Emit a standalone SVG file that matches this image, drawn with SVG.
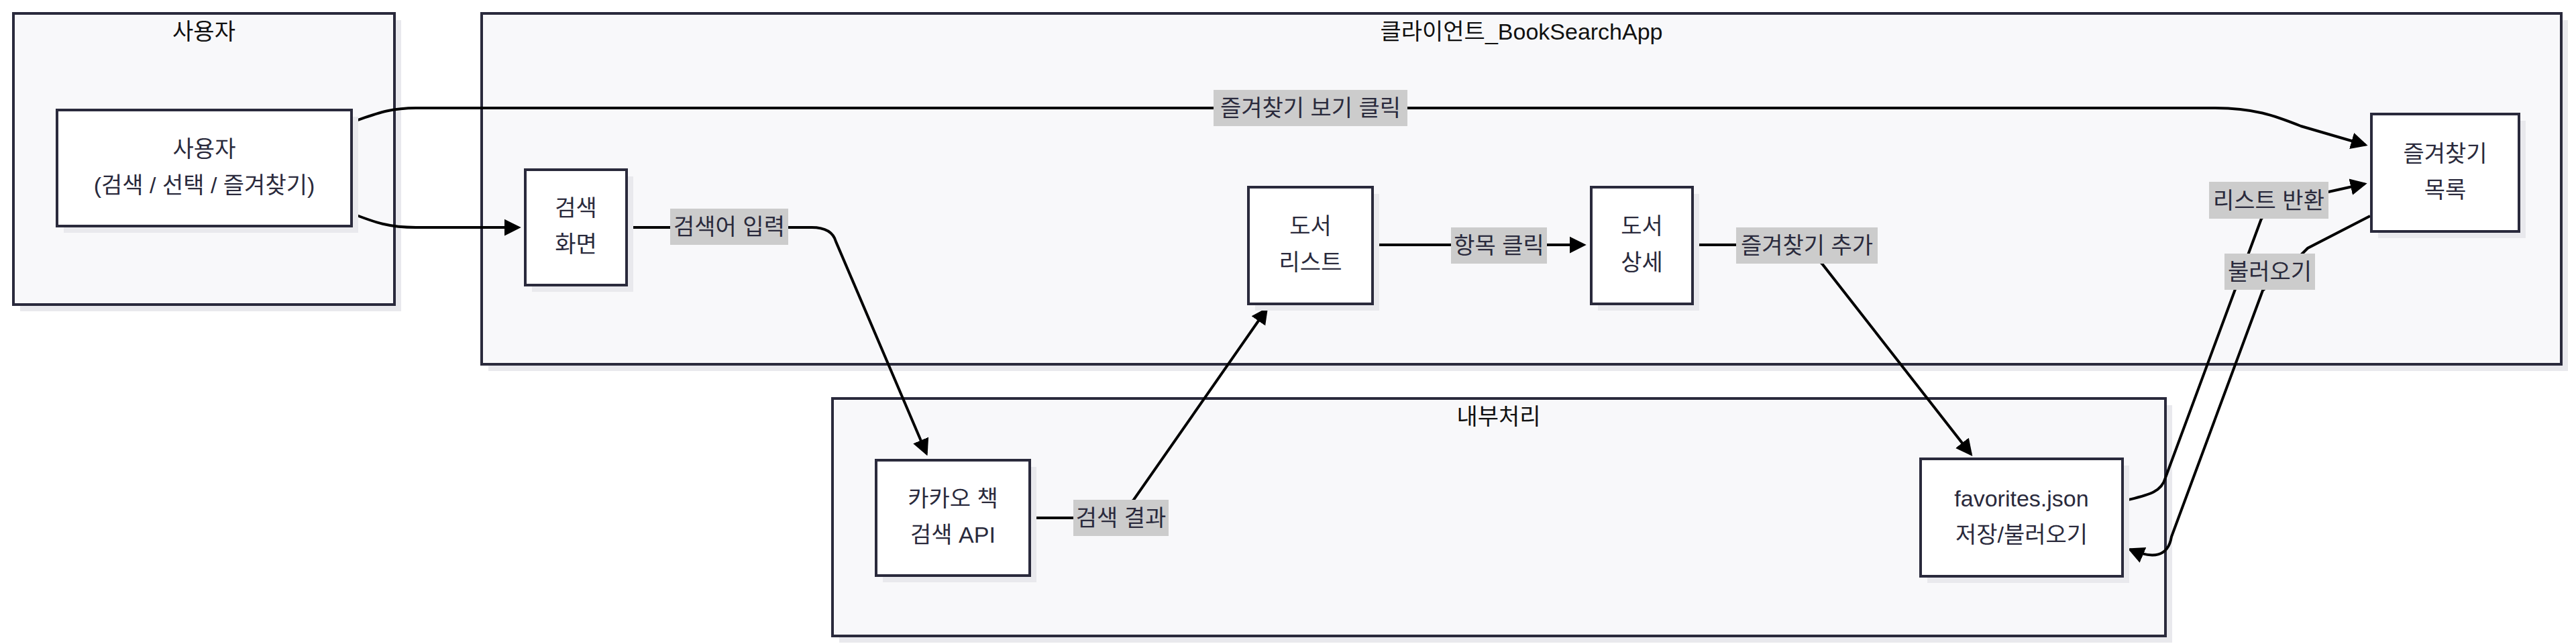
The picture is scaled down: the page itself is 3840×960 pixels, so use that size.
<svg xmlns="http://www.w3.org/2000/svg" width="3840" height="960" viewBox="0 0 3840 960">
<defs>
<style>
text{font-family:"Liberation Sans","Noto Sans CJK KR",sans-serif;font-size:34px;text-anchor:middle}
.cl{fill:#f8f8fa;stroke:#2a2a3c;stroke-width:4}
.sh{fill:#e9e9ed}
.nd{fill:#ffffff;stroke:#2a2a3c;stroke-width:4}
.ct{fill:#111111}
.nt{fill:#2a2a3c}
.e{fill:none;stroke:#000;stroke-width:4}
.lb{fill:#cccccc}
.lt{fill:#2a2a3c}
</style>
<marker id="ah" viewBox="0 0 10 10" refX="8.5" refY="5" markerWidth="25" markerHeight="30" markerUnits="userSpaceOnUse" orient="auto">
<path d="M0,0 L10,5 L0,10 z" fill="#000"/>
</marker>
</defs>
<rect width="3840" height="960" fill="#ffffff"/>

<g id="cluster-user">
<rect class="sh" x="30" y="30" width="568" height="434"/>
<rect class="cl" x="20" y="20" width="568" height="434"/>
<text class="ct" x="304" y="59">사용자</text>
</g>
<g id="cluster-client">
<rect class="sh" x="728" y="30" width="3100" height="523"/>
<rect class="cl" x="718" y="20" width="3100" height="523"/>
<text class="ct" x="2268" y="59">클라이언트_BookSearchApp</text>
</g>
<g id="cluster-internal">
<rect class="sh" x="1251" y="604" width="1987" height="354"/>
<rect class="cl" x="1241" y="594" width="1987" height="354"/>
<text class="ct" x="2234" y="633">내부처리</text>
</g>

<g id="edges">
<path class="e" d="M524,182 C560,170 580,161 620,161 L3300,161 C3360,161 3390,172 3430,188 L3526,216" marker-end="url(#ah)"/>
<path class="e" d="M524,318 C560,332 580,339 620,339 L773,339" marker-end="url(#ah)"/>
<path class="e" d="M934,339 L1210,339 Q1240,339 1246,360 L1381,676" marker-end="url(#ah)"/>
<path class="e" d="M1535,772 L1660,772 L1690,745 L1888,461" marker-end="url(#ah)"/>
<path class="e" d="M2046,365 L2361,365" marker-end="url(#ah)"/>
<path class="e" d="M2523,365 L2680,365 L2716,393 L2938,677" marker-end="url(#ah)"/>
<path class="e" d="M3165,747 C3200,738 3222,735 3228,712 L3371,326 L3400,300 L3471,286 L3525,274" marker-end="url(#ah)"/>
<path class="e" d="M3533,322 L3440,370 L3400,410 L3373,433 L3237,800 C3232,830 3210,834 3175,819" marker-end="url(#ah)"/>
</g>

<g id="edge-labels">
<g id="lbl-fav-view"><rect class="lb" x="1809" y="134" width="289" height="54"/><text class="lt" x="1953.5" y="173">즐겨찾기 보기 클릭</text></g>
<g id="lbl-query"><rect class="lb" x="999" y="311" width="176" height="54"/><text class="lt" x="1087" y="350">검색어 입력</text></g>
<g id="lbl-result"><rect class="lb" x="1600" y="745" width="142" height="54"/><text class="lt" x="1671" y="784">검색 결과</text></g>
<g id="lbl-click"><rect class="lb" x="2163" y="339" width="143" height="54"/><text class="lt" x="2234.5" y="378">항목 클릭</text></g>
<g id="lbl-add"><rect class="lb" x="2588" y="339" width="211" height="54"/><text class="lt" x="2693.5" y="378">즐겨찾기 추가</text></g>
<g id="lbl-return"><rect class="lb" x="3293" y="271" width="178" height="55"/><text class="lt" x="3382" y="311">리스트 반환</text></g>
<g id="lbl-load"><rect class="lb" x="3316" y="378" width="135" height="54"/><text class="lt" x="3383.5" y="417">불러오기</text></g>
</g>

<g id="node-user">
<rect class="sh" x="95" y="174" width="439" height="173"/>
<rect class="nd" x="85" y="164" width="439" height="173"/>
<text class="nt" x="304.5" y="234">사용자</text>
<text class="nt" x="304.5" y="288">(검색 / 선택 / 즐겨찾기)</text>
</g>
<g id="node-search">
<rect class="sh" x="793" y="263" width="151" height="172"/>
<rect class="nd" x="783" y="253" width="151" height="172"/>
<text class="nt" x="858.5" y="322">검색</text>
<text class="nt" x="858.5" y="376">화면</text>
</g>
<g id="node-booklist">
<rect class="sh" x="1871" y="289" width="185" height="174"/>
<rect class="nd" x="1861" y="279" width="185" height="174"/>
<text class="nt" x="1953.5" y="349">도서</text>
<text class="nt" x="1953.5" y="403">리스트</text>
</g>
<g id="node-detail">
<rect class="sh" x="2382" y="289" width="151" height="174"/>
<rect class="nd" x="2372" y="279" width="151" height="174"/>
<text class="nt" x="2447.5" y="349">도서</text>
<text class="nt" x="2447.5" y="403">상세</text>
</g>
<g id="node-favlist">
<rect class="sh" x="3545" y="180" width="220" height="175"/>
<rect class="nd" x="3535" y="170" width="220" height="175"/>
<text class="nt" x="3645" y="241">즐겨찾기</text>
<text class="nt" x="3645" y="295">목록</text>
</g>
<g id="node-kakao">
<rect class="sh" x="1316" y="696" width="229" height="172"/>
<rect class="nd" x="1306" y="686" width="229" height="172"/>
<text class="nt" x="1420.5" y="755">카카오 책</text>
<text class="nt" x="1420.5" y="809">검색 API</text>
</g>
<g id="node-favjson">
<rect class="sh" x="2873" y="694" width="301" height="175"/>
<rect class="nd" x="2863" y="684" width="301" height="175"/>
<text class="nt" x="3013.5" y="755">favorites.json</text>
<text class="nt" x="3013.5" y="809">저장/불러오기</text>
</g>
</svg>
